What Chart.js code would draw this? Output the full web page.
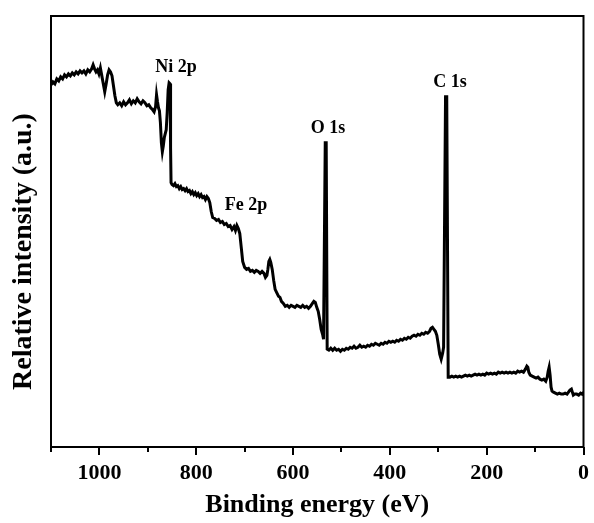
<!DOCTYPE html>
<html>
<head>
<meta charset="utf-8">
<script src="https://cdn.jsdelivr.net/npm/chart.js@4.4.1/dist/chart.umd.min.js"></script>
<style>
  body { margin: 0; background: #fff; }
  canvas { display: block; }
</style>
</head>
<body>
<canvas id="xpsChart" width="594" height="523"></canvas>
<script>
// binding energy (eV) and relative intensity
const energy = [
  1100,1096,1092,1088,1084,1080,1076,1072,1068,1064,1060,1056,1052,1048,1044,1040,1036,1032,1028,1024,1020,1016,
  1013,1010,1007,1004,1001,998,995,992,989,986,983,980,977,974,971,968,965,962,
  958,954,950,946,942,938,934,930,926,922,918,914,910,906,902,898,894,890,887,
  884,882,880,878,876,874,872,870,868,866,864,862,860,858,856,854,853,852,850,
  847,844,841,838,835,832,829,826,823,820,817,814,811,808,805,802,799,796,793,790,787,784,781,778,775,
  772,769,766,762,758,754,750,746,742,738,734,730,726,722,719,716,713,710,707,704,
  700,696,692,688,684,680,676,672,668,664,660,657,654,652,650,648,646,643,640,637,634,630,627,624,
  620,616,612,608,604,600,596,592,588,584,580,576,572,568,564,560,557,554,551,548,545,542,539,537,
  533.5,531.5,529.5,526,522,
  518,514,510,506,502,498,494,490,486,482,478,474,470,466,462,458,454,450,446,442,438,434,430,426,422,
  418,414,410,406,402,398,394,390,386,382,378,374,370,366,362,358,354,350,346,342,338,334,330,326,322,318,
  315,312,309,306,303,300,297,294,291,289,285,282.5,279.5,
  276,272,268,264,260,256,252,248,244,240,236,232,228,224,220,216,212,208,204,200,
  196,192,188,184,180,176,172,168,164,160,156,152,148,144,140,136,132,128,124,120,
  117,115,113,110,106,102,98,94,90,86,82,78,75,73,71,69,67,65,
  62,58,54,50,46,42,38,34,31,28,25,23,21,18,14,10,6,3,0
];
const intensity = [
  363,366,364,369,367,371,369,373,371,374,372,375,373,376,374,377,375,377,374,378,376,379,
  383,379,376,378,374,380,372,364,356,364,373,378,376,372,362,352,345,343,
  345,342,346,343,345,348,344,347,345,349,346,344,347,345,342,343,340,338,336,
  341,353,346,340,337,325,305,296,302,310,314,318,335,358,365,364,300,265,263,
  262,264,261,262,259,261,258,259,257,259,256,257,254,256,253,255,252,254,251,253,250,251,248,251,249,
  245,236,230,229,227,228,225,226,223,224,221,222,218,221,217,222,219,214,200,186,
  180,178,179,176,177,175,177,176,174,176,174,170,172,178,186,188,185,178,167,158,155,151,150,146,
  144,141,142,140,142,141,140,142,141,140,142,140,141,139,141,144,146,145,140,136,128,118,113,108,
  305,305,98,97,99,
  97,99,97,98,96,98,97,99,98,100,99,101,99,100,102,100,101,100,102,101,103,102,104,103,102,
  104,103,105,104,106,105,106,105,107,106,108,107,109,108,110,109,111,112,111,113,112,114,113,115,114,116,
  119,120,118,116,112,103,93,88,94,100,351,351,70,
  70,71,70,71,70,71,70,71,72,71,72,71,72,73,72,73,72,73,72,74,
  73,74,73,74,73,75,74,75,74,75,74,75,74,75,74,76,75,76,75,78,
  81,80,75,72,71,70,69,70,68,67,68,66,70,76,80,72,60,56,
  55,54,53,54,53,53,54,53,55,57,58,55,52,53,53,52,54,53,55
];

// peak labels and where they sit (eV, intensity)
const peakNames = ['Ni 2p', 'Fe 2p', 'O 1s', 'C 1s'];
const peakEnergy = [842, 697, 528, 276];
const peakLevel = [381, 242, 319, 366];

const majorStep = 200;
const serif = '"Liberation Serif", "Times New Roman", serif';
const yTitle = 'Relative intensity (a.u.)';

const framePlugin = {
  id: 'frame',
  afterDatasetsDraw(chart) {
    const ctx = chart.ctx;
    const a = chart.chartArea;
    const x = chart.scales.x;
    const y = chart.scales.y;
    ctx.save();
    ctx.strokeStyle = '#000';
    ctx.lineWidth = 2;
    ctx.strokeRect(a.left, a.top, a.right - a.left, a.bottom - a.top);
    // outward ticks, long on labelled ones
    x.ticks.forEach(t => {
      const px = Math.round(x.getPixelForValue(t.value));
      const len = t.value % majorStep === 0 ? 8 : 5;
      ctx.beginPath();
      ctx.moveTo(px, a.bottom);
      ctx.lineTo(px, a.bottom + len);
      ctx.stroke();
    });
    ctx.fillStyle = '#000';
    ctx.font = 'bold 18px ' + serif;
    ctx.textAlign = 'center';
    ctx.textBaseline = 'middle';
    peakNames.forEach((name, i) => {
      ctx.fillText(name, x.getPixelForValue(peakEnergy[i]), y.getPixelForValue(peakLevel[i]));
    });
    // y title sits a little below the middle of the frame
    ctx.font = 'bold 28px ' + serif;
    ctx.translate(24, (a.top + a.bottom) / 2 + 20);
    ctx.rotate(-Math.PI / 2);
    ctx.fillText(yTitle, 0, 0);
    ctx.restore();
  }
};

new Chart(document.getElementById('xpsChart'), {
  type: 'line',
  data: {
    datasets: [{
      data: energy.map((e, i) => ({ x: e, y: intensity[i] })),
      borderColor: '#000',
      borderWidth: 3,
      pointRadius: 0,
      tension: 0,
      fill: false
    }]
  },
  options: {
    responsive: false,
    animation: false,
    layout: { padding: { top: 16, right: 5, left: 0, bottom: 0 } },
    plugins: { legend: { display: false }, tooltip: { enabled: false } },
    scales: {
      x: {
        type: 'linear',
        reverse: true,
        min: 0,
        max: 1100,
        grid: { display: false },
        border: { display: false },
        ticks: {
          stepSize: 100,
          autoSkip: false,
          maxRotation: 0,
          padding: 5,
          color: '#000',
          font: { family: serif, size: 22, weight: 'bold' },
          callback: v => (v % majorStep === 0 ? v : '')
        },
        title: {
          display: true,
          text: 'Binding energy (eV)',
          color: '#000',
          font: { family: serif, size: 26, weight: 'bold' },
          padding: { top: 0, bottom: 2 }
        },
        afterFit: s => { s.height = 76; }
      },
      y: {
        min: 0,
        max: 432,
        grid: { display: false },
        border: { display: false },
        ticks: { display: false },
        afterFit: s => { s.width = 51; }
      }
    }
  },
  plugins: [framePlugin]
});
</script>
</body>
</html>
